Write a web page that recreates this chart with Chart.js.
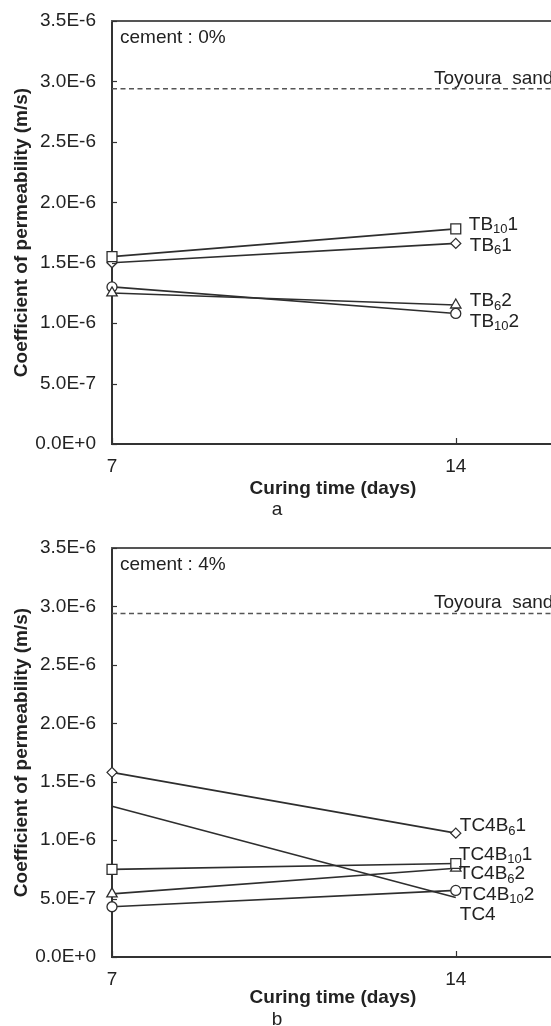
<!DOCTYPE html>
<html>
<head>
<meta charset="utf-8">
<script src="https://cdn.jsdelivr.net/npm/chart.js@4"></script>
<style>
  html, body { margin: 0; padding: 0; background: #fff; overflow: hidden; }
  #wrap { position: relative; width: 551px; height: 1026px; overflow: hidden; }
  canvas { position: absolute; left: 0; }
</style>
</head>
<body>
<div id="wrap">
  <canvas id="chartA" width="554" height="526" style="top:0"></canvas>
  <canvas id="chartB" width="554" height="510" style="top:526px"></canvas>
</div>
<script>
// curing time (days)
var dias = [7, 14];
var xTickValues = [7, 14];
var xTickLabels = ['7', '14'];
var yTickValues = [0, 0.5e-6, 1.0e-6, 1.5e-6, 2.0e-6, 2.5e-6, 3.0e-6, 3.5e-6];
var yTickLabels = ['0.0E+0', '5.0E-7', '1.0E-6', '1.5E-6', '2.0E-6', '2.5E-6', '3.0E-6', '3.5E-6'];

// Toyoura sand reference
var toyoura = 2.94e-6;

// cement 0%
var tb10_1 = [1.55e-6, 1.78e-6];
var tb6_1 = [1.50e-6, 1.66e-6];
var tb6_2 = [1.25e-6, 1.15e-6];
var tb10_2 = [1.30e-6, 1.08e-6];

// cement 4%
var tc4b6_1 = [1.58e-6, 1.06e-6];
var tc4b10_1 = [0.75e-6, 0.80e-6];
var tc4b6_2 = [0.54e-6, 0.76e-6];
var tc4b10_2 = [0.43e-6, 0.57e-6];
var tc4 = [1.29e-6, 0.51e-6];

var FUENTE = '"Liberation Sans", Arial, sans-serif';
Chart.defaults.font.family = FUENTE;
Chart.defaults.color = '#222';

function puntos(valores) {
  return dias.map(function (d, i) { return { x: d, y: valores[i] }; });
}

function serie(valores, forma, radio) {
  return {
    data: puntos(valores),
    borderColor: '#2e2e2e',
    borderWidth: 1.6,
    pointStyle: forma,
    pointRadius: radio,
    pointBackgroundColor: '#fff',
    pointBorderColor: '#2e2e2e',
    pointBorderWidth: 1.3,
    clip: false
  };
}

function lineaToyoura() {
  return {
    data: [{ x: 7, y: toyoura }, { x: 16, y: toyoura }],
    borderColor: '#555',
    borderWidth: 1.4,
    borderDash: [5, 3.5],
    pointRadius: 0,
    clip: false
  };
}

// marco superior, ticks hacia dentro y textos
var marcoPlugin = {
  id: 'marco',
  afterDraw: function (chart, args, opts) {
    var ctx = chart.ctx, a = chart.chartArea;
    var sx = chart.scales.x, sy = chart.scales.y;
    ctx.save();
    ctx.strokeStyle = '#555';
    ctx.lineWidth = 2;
    ctx.beginPath();
    ctx.moveTo(a.left - 1, a.top);
    ctx.lineTo(a.right, a.top);
    ctx.stroke();

    ctx.strokeStyle = '#333';
    ctx.lineWidth = 1.2;
    sy.ticks.forEach(function (t) {
      var py = Math.round(sy.getPixelForValue(t.value)) + 0.5;
      ctx.beginPath();
      ctx.moveTo(a.left, py);
      ctx.lineTo(a.left + 5, py);
      ctx.stroke();
    });
    sx.ticks.forEach(function (t) {
      var px = Math.round(sx.getPixelForValue(t.value)) + 0.5;
      ctx.beginPath();
      ctx.moveTo(px, a.bottom - 6);
      ctx.lineTo(px, a.bottom + 1);
      ctx.stroke();
    });

    ctx.fillStyle = '#222';
    ctx.font = '19px ' + FUENTE;
    ctx.textBaseline = 'middle';
    ctx.textAlign = 'left';
    ctx.fillText(opts.cemento, a.left + 8, a.top + 17);

    ctx.textBaseline = 'alphabetic';
    ctx.fillText('Toyoura  sand', a.left + 322, sy.getPixelForValue(toyoura) - 5);

    ctx.textBaseline = 'middle';
    opts.etiquetas.forEach(function (et) {
      var meta = chart.getDatasetMeta(et.ds);
      var p = meta.data[meta.data.length - 1];
      var px = p.x + et.dx, py = p.y + et.dy;
      et.partes.forEach(function (parte, j) {
        var sub = j % 2 === 1;
        ctx.font = (sub ? '13px ' : '19px ') + FUENTE;
        ctx.fillText(parte, px, sub ? py + 5 : py);
        px += ctx.measureText(parte).width;
      });
    });
    ctx.restore();
  }
};

function opciones(cfg) {
  return {
    responsive: false,
    animation: false,
    layout: { autoPadding: false, padding: { top: cfg.top, left: 0, right: 0, bottom: 0 } },
    scales: {
      x: {
        type: 'linear',
        min: 7,
        max: 16,
        afterBuildTicks: function (scale) {
          scale.ticks = xTickValues.map(function (v) { return { value: v }; });
        },
        afterFit: function (scale) { scale.height = cfg.xAlto; },
        ticks: {
          padding: 11,
          font: { size: 19 },
          callback: function (v) { return xTickLabels[xTickValues.indexOf(v)]; }
        },
        grid: { drawOnChartArea: false, drawTicks: false },
        border: { color: '#333', width: 2 },
        title: {
          display: true,
          text: 'Curing time (days)',
          font: { size: 19, weight: 'bold', lineHeight: 1 },
          padding: { top: 0, bottom: 1.5 },
          color: '#222'
        }
      },
      y: {
        min: 0,
        max: 3.5e-6,
        afterBuildTicks: function (scale) {
          scale.ticks = yTickValues.map(function (v) { return { value: v }; });
        },
        afterFit: function (scale) {
          scale.width = 112;
          scale.paddingTop = 0;
          scale.paddingBottom = 0;
        },
        ticks: {
          padding: 16,
          font: { size: 19 },
          callback: function (v) {
            var i = yTickValues.findIndex(function (t) { return Math.abs(t - v) < 1e-9; });
            return yTickLabels[i];
          }
        },
        grid: { drawOnChartArea: false, drawTicks: false },
        border: { color: '#333', width: 2 },
        title: {
          display: true,
          text: 'Coefficient of permeability (m/s)',
          font: { size: 19, weight: 'bold', lineHeight: 1 },
          padding: { top: 12.5, bottom: 0 },
          color: '#222'
        }
      }
    },
    plugins: {
      legend: { display: false },
      tooltip: { enabled: false },
      title: {
        display: true,
        position: 'bottom',
        text: cfg.letra,
        font: { size: 19, weight: 'normal', lineHeight: 1 },
        padding: { top: cfg.letraPad, bottom: 6.5 },
        color: '#222'
      },
      marco: { cemento: cfg.cemento, etiquetas: cfg.etiquetas }
    }
  };
}

new Chart(document.getElementById('chartA'), {
  type: 'line',
  plugins: [marcoPlugin],
  data: {
    datasets: [
      lineaToyoura(),
      serie(tb10_1, 'rect', 7),
      serie(tb6_1, 'rectRot', 5),
      serie(tb6_2, 'triangle', 6),
      serie(tb10_2, 'circle', 5)
    ]
  },
  options: opciones({
    top: 21, xAlto: 56, letra: 'a', letraPad: 0.5, cemento: 'cement : 0%',
    etiquetas: [
      { ds: 1, dx: 13, dy: -4, partes: ['TB', '10', '1'] },
      { ds: 2, dx: 14, dy: 2, partes: ['TB', '6', '1'] },
      { ds: 3, dx: 14, dy: -4, partes: ['TB', '6', '2'] },
      { ds: 4, dx: 14, dy: 8, partes: ['TB', '10', '2'] }
    ]
  })
});

new Chart(document.getElementById('chartB'), {
  type: 'line',
  plugins: [marcoPlugin],
  data: {
    datasets: [
      lineaToyoura(),
      serie(tc4b6_1, 'rectRot', 5),
      serie(tc4b10_1, 'rect', 7),
      serie(tc4b6_2, 'triangle', 6),
      serie(tc4b10_2, 'circle', 5),
      serie(tc4, 'circle', 0)
    ]
  },
  options: opciones({
    top: 22, xAlto: 52, letra: 'b', letraPad: 1.5, cemento: 'cement : 4%',
    etiquetas: [
      { ds: 1, dx: 4, dy: -7, partes: ['TC4B', '6', '1'] },
      { ds: 2, dx: 3, dy: -9, partes: ['TC4B', '10', '1'] },
      { ds: 3, dx: 3, dy: 6, partes: ['TC4B', '6', '2'] },
      { ds: 4, dx: 5, dy: 4, partes: ['TC4B', '10', '2'] },
      { ds: 5, dx: 4, dy: 17, partes: ['TC4'] }
    ]
  })
});
</script>
</body>
</html>
